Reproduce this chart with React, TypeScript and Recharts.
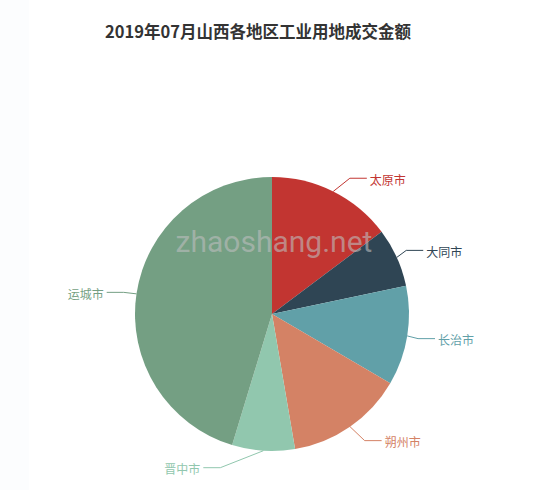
import React from 'react';
import { PieChart, Pie, Cell } from 'recharts';

// 2019年07月 各地区工业用地成交金额（万元，按图估读）
const cities = ['太原市', '大同市', '长治市', '朔州市', '晋中市', '运城市'];
const amounts = [4780, 2250, 3800, 4500, 2395, 14680];
const colors = ['#c23531', '#2f4554', '#61a0a8', '#d48265', '#91c7ae', '#749f83'];

const RAD = Math.PI / 180;
const FONT = '"Noto Sans CJK SC", "Noto Sans", sans-serif';

// label elbow nudges (px), like echarts' label layout pushing labels apart
const elbowNudge = [[9, 2], [-6, 0], [-6, 0], [5, 0], [-42, 0], [4, 1]];

const renderLabel = (props: any) => {
  const { cx, cy, midAngle, outerRadius, index, name } = props;
  const cos = Math.cos(-midAngle * RAD);
  const sin = Math.sin(-midAngle * RAD);
  const sx = cx + outerRadius * cos;
  const sy = cy + outerRadius * sin;
  const [nx, ny] = elbowNudge[index] || [0, 0];
  const mx = cx + (outerRadius + 17) * cos + nx;
  const my = cy + (outerRadius + 17) * sin + ny;
  const right = cos >= 0;
  const ex = mx + (right ? 17 : -17);
  const color = colors[index % colors.length];
  return (
    <g>
      <path d={`M${sx},${sy}L${mx},${my}L${ex},${my}`} stroke={color} fill="none" strokeWidth={1} />
      <text
        x={ex + (right ? 3 : -3)}
        y={my + 1}
        fill={color}
        fontSize={12}
        fontFamily={FONT}
        textAnchor={right ? 'start' : 'end'}
        dominantBaseline="central"
      >
        {name}
      </text>
    </g>
  );
};

export default function App() {
  const data = cities.map((c, i) => ({ name: c, value: amounts[i] }));

  return (
    <div style={{ position: 'absolute', left: 0, top: 0, width: 550, height: 490, background: '#fff' }}>
      <div style={{ position: 'absolute', left: 0, top: 0, width: 29, height: 490, background: '#fcfdfe' }} />
      <div style={{ position: 'absolute', left: 0, top: 0 }}>
        <PieChart width={550} height={490} margin={{ top: 0, right: 0, bottom: 0, left: 0 }}>
          <text
            x={258}
            y={31}
            textAnchor="middle"
            dominantBaseline="central"
            fontSize={16.5}
            fontWeight="bold"
            fill="#333"
            fontFamily={FONT}
          >
            2019年07月山西各地区工业用地成交金额
          </text>
          <Pie
            data={data}
            dataKey="value"
            nameKey="name"
            cx={272}
            cy={314}
            outerRadius={137}
            startAngle={90}
            endAngle={-270}
            stroke="none"
            label={renderLabel}
            labelLine={false}
            isAnimationActive={false}
          >
            {data.map((d, i) => (
              <Cell key={d.name} fill={colors[i]} />
            ))}
          </Pie>
        </PieChart>
      </div>
      <svg width={550} height={490} style={{ position: 'absolute', left: 0, top: 0, pointerEvents: 'none' }}>
        <text x={274} y={252} textAnchor="middle" fontSize={30} fontFamily="Roboto, sans-serif" fill="rgba(190,190,190,0.6)">
          zhaoshang.net
        </text>
      </svg>
    </div>
  );
}
